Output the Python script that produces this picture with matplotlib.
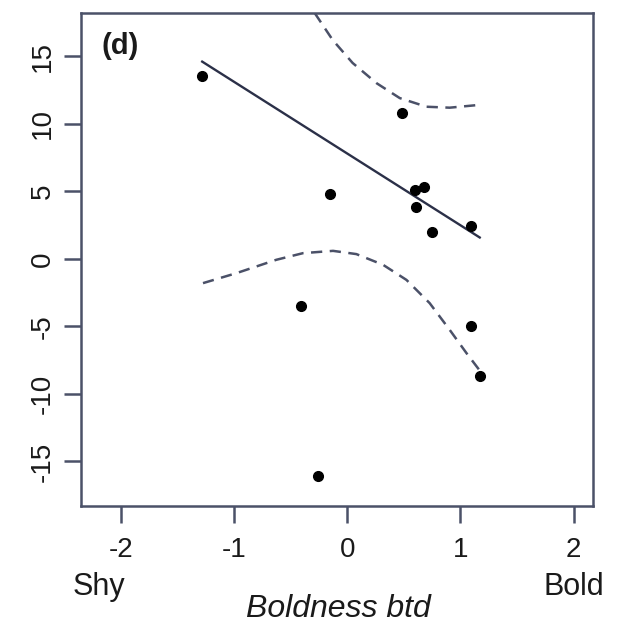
import numpy as np
import matplotlib
matplotlib.use("Agg")
import matplotlib.pyplot as plt

plt.rcParams['font.family'] = ['Liberation Sans', 'DejaVu Sans']

# observed points (boldness score, response)
boldness = [-1.28, 0.48, -0.15, 0.60, 0.68, 0.61, 0.75, 1.09, -0.41, 1.09, 1.17, -0.26]
response = [13.56, 10.8, 4.8, 5.1, 5.3, 3.8, 2.0, 2.4, -3.5, -5.0, -8.7, -16.1]

# fitted line end points
fit_x = [-1.28, 1.17]
fit_y = [14.6, 1.58]

# upper dashed band
upper_x = [-0.287, -0.128, 0.048, 0.26, 0.464, 0.70, 0.905, 1.17]
upper_y = [18.2, 16.2, 14.5, 13.0, 11.9, 11.26, 11.19, 11.4]

# lower dashed band
lower_x = [-1.273, -0.978, -0.625, -0.39, -0.125, 0.081, 0.316, 0.523, 0.728, 0.905, 1.053, 1.17]
lower_y = [-1.8, -1.06, -0.07, 0.42, 0.59, 0.35, -0.44, -1.56, -3.28, -5.26, -6.98, -8.27]

xticks = [-2, -1, 0, 1, 2]
yticks = [-15, -10, -5, 0, 5, 10, 15]

spine_col = "#4b5168"
line_col = "#2b3048"
text_col = "#1a1a1a"

fig = plt.figure(figsize=(6.41, 6.28), dpi=100)
ax = fig.add_axes([81 / 641, 1 - 506 / 628, 512 / 641, 493 / 628])

ax.plot(fit_x, fit_y, color=line_col, lw=1.7)
ax.plot(upper_x, upper_y, color=spine_col, lw=1.8, ls=(0, (4.5, 3)))
ax.plot(lower_x, lower_y, color=spine_col, lw=1.8, ls=(0, (4.5, 3)))
ax.plot(boldness, response, 'o', color='black', ms=7)

ax.set_xlim(-2.35, 2.17)
ax.set_ylim(-18.3, 18.2)
ax.set_xticks(xticks)
ax.set_yticks(yticks)
ax.set_xticklabels([str(t) for t in xticks])
ax.set_yticklabels([str(t) for t in yticks], rotation=90, va='center')

for s in ax.spines.values():
    s.set_color(spine_col)
    s.set_linewidth(1.8)
ax.tick_params(axis='both', length=12, width=1.8, color=spine_col, labelsize=20, labelcolor=text_col)
ax.tick_params(axis='x', pad=10)
ax.tick_params(axis='y', pad=6)

ax.text(0.041, 0.933, "(d)", transform=ax.transAxes, fontsize=21, fontweight='bold',
        ha='left', va='center', color=text_col)

fig.text(99 / 641, 1 - 595 / 628, "Shy", fontsize=22, ha='center', va='baseline', color=text_col)
fig.text(574 / 641, 1 - 595 / 628, "Bold", fontsize=22, ha='center', va='baseline', color=text_col)
fig.text(338 / 641, 1 - 617 / 628, "Boldness btd", fontsize=23, style='italic',
         ha='center', va='baseline', color=text_col)

fig.savefig("out.png", dpi=100)
